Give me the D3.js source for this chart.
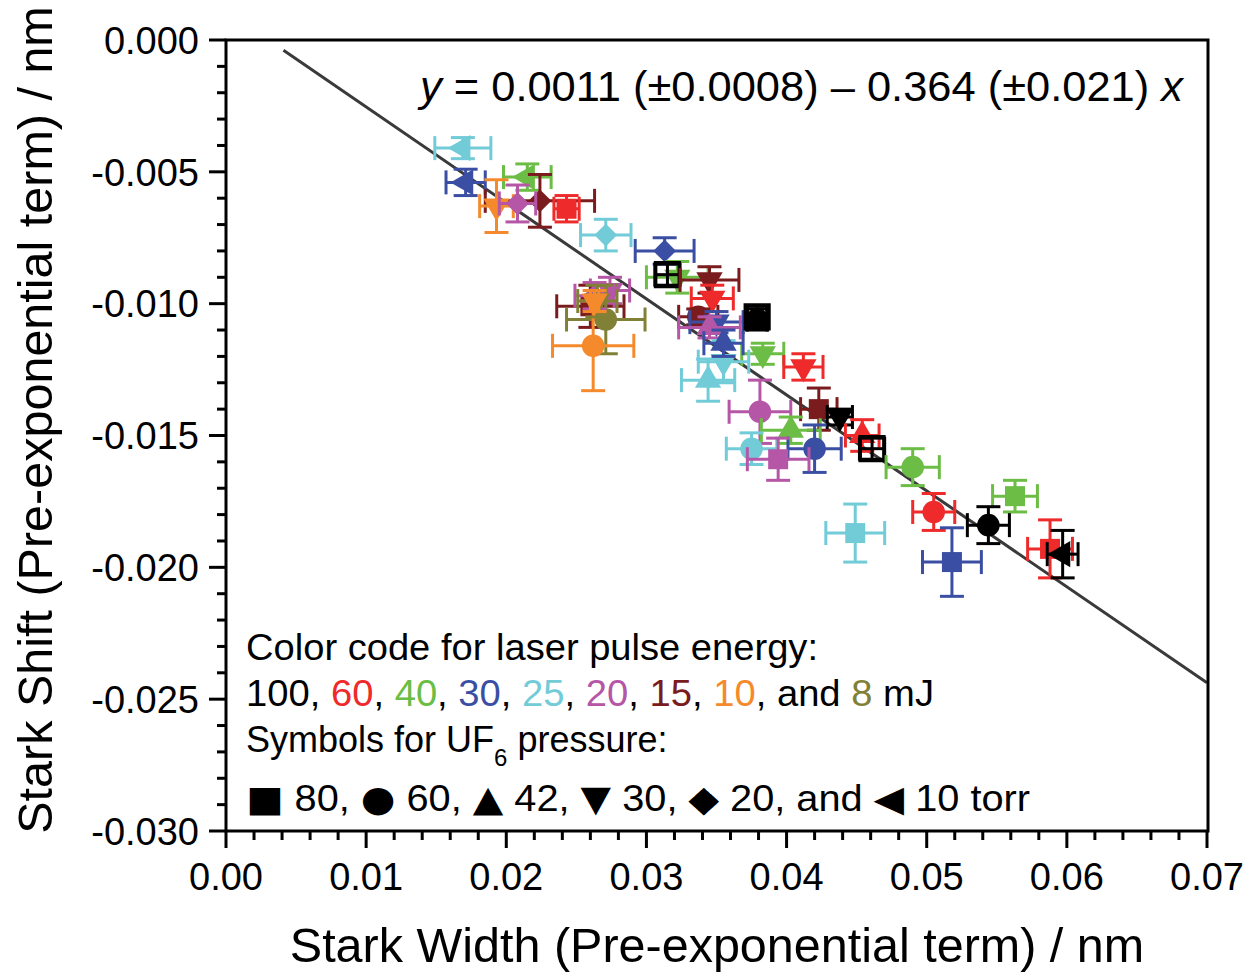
<!DOCTYPE html>
<html>
<head>
<meta charset="utf-8">
<script src="https://cdn.jsdelivr.net/npm/d3@7"></script>
<style>
html,body{margin:0;padding:0;background:#fff;}
svg{display:block;}
text{font-family:"Liberation Sans",Arial,sans-serif;}
</style>
</head>
<body>
<svg id="chart" width="1254" height="974"></svg>
<script>
// ---------------- data ----------------
const xTicks = [0.00, 0.01, 0.02, 0.03, 0.04, 0.05, 0.06, 0.07];
const yTicks = [0.000, -0.005, -0.010, -0.015, -0.020, -0.025, -0.030];
const xTickLabels = ["0.00","0.01","0.02","0.03","0.04","0.05","0.06","0.07"];
const yTickLabels = ["0.000","-0.005","-0.010","-0.015","-0.020","-0.025","-0.030"];

const energyLevels = [100, 60, 40, 30, 25, 20, 15, 10, 8];
const energyColors = ["#000000","#ee2a2a","#6cbd45","#3a4fa3","#72ccd8","#b556a6","#7a1c1e","#f58a2c","#808036"];
const pressureLevels = [80, 60, 42, 30, 20, 10];

// each point: laser energy (mJ), UF6 pressure (torr), width x, shift y, errors
const ptEnergy   = [25, 30, 40, 15, 10, 20, 60, 25, 30, 40, 100, 15, 60, 15, 30, 20, 100, 100, 40, 60, 25, 25, 30, 20, 15, 100, 40, 60, 100, 30, 25, 20, 40, 40, 60, 100, 25, 30, 60, 100, 20, 15, 8, 10, 20, 8, 10];
const ptPressure = [10, 10, 10, 20, 30, 20, 80, 20, 20, 30, 80, 30, 30, 60, 30, 42, 80, 60, 30, 30, 42, 30, 42, 60, 80, 30, 42, 42, 80, 60, 60, 80, 60, 80, 60, 60, 80, 80, 80, 10, 30, 80, 60, 60, 20, 30, 30];
const ptX    = [0.0169, 0.0171, 0.0215, 0.0224, 0.0193, 0.0208, 0.0243, 0.0271, 0.0313, 0.0322, 0.0315, 0.0345, 0.0347, 0.0337, 0.0350, 0.0345, 0.0379, 0.0379, 0.0383, 0.0412, 0.0344, 0.0355, 0.0355, 0.0381, 0.0423, 0.0438, 0.0403, 0.0454, 0.0461, 0.0420, 0.0375, 0.0394, 0.0490, 0.0563, 0.0505, 0.0544, 0.0449, 0.0518, 0.0588, 0.0597, 0.0274, 0.0260, 0.0271, 0.0262, 0.0263, 0.0265, 0.0263];
const ptY    = [-0.0041, -0.0054, -0.0052, -0.0061, -0.0063, -0.0062, -0.0064, -0.0074, -0.0080, -0.0090, -0.0089, -0.0091, -0.0098, -0.0105, -0.0107, -0.0109, -0.0105, -0.0106, -0.0119, -0.0124, -0.0129, -0.0122, -0.0115, -0.0141, -0.0140, -0.0143, -0.0148, -0.0150, -0.0155, -0.0155, -0.0155, -0.0159, -0.0162, -0.0173, -0.0179, -0.0184, -0.0187, -0.0198, -0.0193, -0.0195, -0.0095, -0.0101, -0.0106, -0.0116, -0.0097, -0.0099, -0.0099];
const ptXErr = [0.0020, 0.0014, 0.0017, 0.0039, 0.0012, 0.0013, 0.0009, 0.0018, 0.0021, 0.0022, 0.0009, 0.0021, 0.0015, 0.0014, 0.0019, 0.0022, 0.0007, 0.0007, 0.0015, 0.0014, 0.0019, 0.0018, 0.0014, 0.0022, 0.0013, 0.0009, 0.0021, 0.0012, 0.0009, 0.0019, 0.0018, 0.0022, 0.0019, 0.0016, 0.0015, 0.0015, 0.0021, 0.0021, 0.0016, 0.0011, 0.0014, 0.0024, 0.0028, 0.0029, 0.0014, 0.0014, 0.0003];
const ptYErr = [0.0004, 0.0005, 0.0005, 0.0010, 0.0010, 0.0007, 0.0005, 0.0006, 0.0005, 0.0006, 0.0004, 0.0005, 0.0005, 0.0003, 0.0004, 0.0004, 0.0004, 0.0004, 0.0004, 0.0005, 0.0008, 0.0008, 0.0005, 0.0012, 0.0008, 0.0003, 0.0005, 0.0006, 0.0004, 0.0009, 0.0006, 0.0008, 0.0007, 0.0006, 0.0007, 0.0007, 0.0011, 0.0013, 0.0011, 0.0009, 0.0005, 0.0008, 0.0013, 0.0017, 0.0005, 0.0006, 0.0004];

// linear fit y = a + b x
const fitA = 0.0011, fitB = -0.364;
const fitXRange = [0.0041, 0.07];
const equationText = ["y", " = 0.0011 (±0.0008) – 0.364 (±0.021) ", "x"];

// ---------------- layout ----------------
const L = 226, R = 1208, T = 40, B = 831;
const svg = d3.select("#chart");
const x = d3.scaleLinear().domain([0, 0.07]).range([L, R - 1]);
const y = d3.scaleLinear().domain([-0.030, 0]).range([B, T]);

// fit line
svg.append("line")
  .attr("x1", x(fitXRange[0])).attr("y1", y(fitA + fitB * fitXRange[0]))
  .attr("x2", x(fitXRange[1])).attr("y2", y(fitA + fitB * fitXRange[1]))
  .attr("stroke", "#3a3a3a").attr("stroke-width", 3);

// points
const color = d3.scaleOrdinal().domain(energyLevels).range(energyColors);
const symType = {80: d3.symbolSquare, 60: d3.symbolCircle, 42: d3.symbolTriangle, 30: d3.symbolTriangle, 20: d3.symbolSquare, 10: d3.symbolTriangle};
const symSize = {80: 400, 60: 400, 42: 300, 30: 300, 20: 260, 10: 300};
const symRot  = {80: 0, 60: 0, 42: 0, 30: 180, 20: 45, 10: -90};
const cap = 12;

const pts = ptX.map((v, i) => ({x: v, y: ptY[i], xe: ptXErr[i], ye: ptYErr[i], e: ptEnergy[i], p: ptPressure[i]}));
const gp = svg.append("g");
pts.forEach(d => {
  const g = gp.append("g").attr("stroke", color(d.e)).attr("stroke-width", 3).attr("fill", "none");
  const cx = x(d.x), cy = y(d.y);
  const x0 = x(d.x - d.xe), x1 = x(d.x + d.xe), y0 = y(d.y - d.ye), y1 = y(d.y + d.ye);
  g.append("line").attr("x1", x0).attr("x2", x1).attr("y1", cy).attr("y2", cy);
  g.append("line").attr("x1", cx).attr("x2", cx).attr("y1", y0).attr("y2", y1);
  g.append("line").attr("x1", x0).attr("x2", x0).attr("y1", cy - cap).attr("y2", cy + cap);
  g.append("line").attr("x1", x1).attr("x2", x1).attr("y1", cy - cap).attr("y2", cy + cap);
  g.append("line").attr("x1", cx - cap).attr("x2", cx + cap).attr("y1", y0).attr("y2", y0);
  g.append("line").attr("x1", cx - cap).attr("x2", cx + cap).attr("y1", y1).attr("y2", y1);
  const hollow = (d.e === 100 && d.p === 80);
  gp.append("path")
    .attr("d", d3.symbol().type(symType[d.p]).size(hollow ? 560 : symSize[d.p])())
    .attr("transform", `translate(${cx},${cy}) rotate(${symRot[d.p]})`)
    .attr("fill", hollow ? "none" : color(d.e))
    .attr("stroke", hollow ? "#000" : "none")
    .attr("stroke-width", hollow ? 3.5 : 0);
});

// frame
svg.append("rect").attr("x", L).attr("y", T).attr("width", R - L).attr("height", B - T)
  .attr("fill", "none").attr("stroke", "#000").attr("stroke-width", 3);

// x axis ticks
const xMinor = d3.range(0, 0.0701, 0.002);
svg.append("g").selectAll("line").data(xMinor).join("line")
  .attr("x1", d => x(d)).attr("x2", d => x(d)).attr("y1", B)
  .attr("y2", (d, i) => B + (i % 5 === 0 ? 17 : 9))
  .attr("stroke", "#000").attr("stroke-width", 3);
svg.append("g").selectAll("text").data(xTicks).join("text")
  .attr("x", d => x(d)).attr("y", 890).attr("text-anchor", "middle")
  .attr("font-size", 38).text((d, i) => xTickLabels[i]);

// y axis ticks
const yMinor = d3.range(0, 31).map(k => -k * 0.001);
svg.append("g").selectAll("line").data(yMinor).join("line")
  .attr("y1", d => y(d)).attr("y2", d => y(d)).attr("x1", L)
  .attr("x2", (d, i) => L - (i % 5 === 0 ? 17 : 9))
  .attr("stroke", "#000").attr("stroke-width", 3);
svg.append("g").selectAll("text").data(yTicks).join("text")
  .attr("x", 199).attr("y", d => y(d)).attr("dy", "0.36em").attr("text-anchor", "end")
  .attr("font-size", 38).text((d, i) => yTickLabels[i]);

// axis titles
svg.append("text").attr("x", 717).attr("y", 962).attr("text-anchor", "middle")
  .attr("font-size", 48.5).text("Stark Width (Pre-exponential term) / nm");
svg.append("text").attr("transform", "translate(52,420) rotate(-90)").attr("text-anchor", "middle")
  .attr("font-size", 48.5).text("Stark Shift (Pre-exponential term) / nm");

// equation
const eq = svg.append("text").attr("x", 420).attr("y", 101)
  .attr("font-family", "Lato, 'Open Sans', sans-serif").attr("font-size", 42)
  .attr("textLength", 763).attr("lengthAdjust", "spacingAndGlyphs");
eq.append("tspan").attr("font-style", "italic").text(equationText[0]);
eq.append("tspan").text(equationText[1]);
eq.append("tspan").attr("font-style", "italic").text(equationText[2]);

// legend text
const lx = 246, fs = 36;
svg.append("text").attr("x", lx).attr("y", 660).attr("font-size", fs)
  .attr("textLength", 572).attr("lengthAdjust", "spacingAndGlyphs")
  .text("Color code for laser pulse energy:");
const l2 = svg.append("text").attr("x", lx).attr("y", 706).attr("font-size", fs)
  .attr("textLength", 688).attr("lengthAdjust", "spacingAndGlyphs");
energyLevels.forEach((e, i) => {
  if (i === energyLevels.length - 1) l2.append("tspan").attr("fill", "#000").text("and ");
  l2.append("tspan").attr("fill", color(e)).text(String(e));
  l2.append("tspan").attr("fill", "#000").text(i === energyLevels.length - 1 ? " mJ" : ", ");
});
const l3 = svg.append("text").attr("x", lx).attr("y", 752).attr("font-size", fs);
l3.append("tspan").text("Symbols for UF");
l3.append("tspan").attr("font-size", 24).attr("dy", 14).text("6");
l3.append("tspan").attr("dy", -14).text(" pressure:");

const symChars = ["■", "●", "▲", "▼", "◆", "◀"];
const l4 = svg.append("text").attr("x", lx).attr("y", 811).attr("font-size", fs)
  .attr("textLength", 784).attr("lengthAdjust", "spacingAndGlyphs");
pressureLevels.forEach((p, i) => {
  if (i === pressureLevels.length - 1) l4.append("tspan").text("and ");
  l4.append("tspan").attr("font-family", "DejaVu Sans").attr("font-size", 36).text(symChars[i]);
  l4.append("tspan").text(" " + p + (i === pressureLevels.length - 1 ? " torr" : ", "));
});
</script>
</body>
</html>
